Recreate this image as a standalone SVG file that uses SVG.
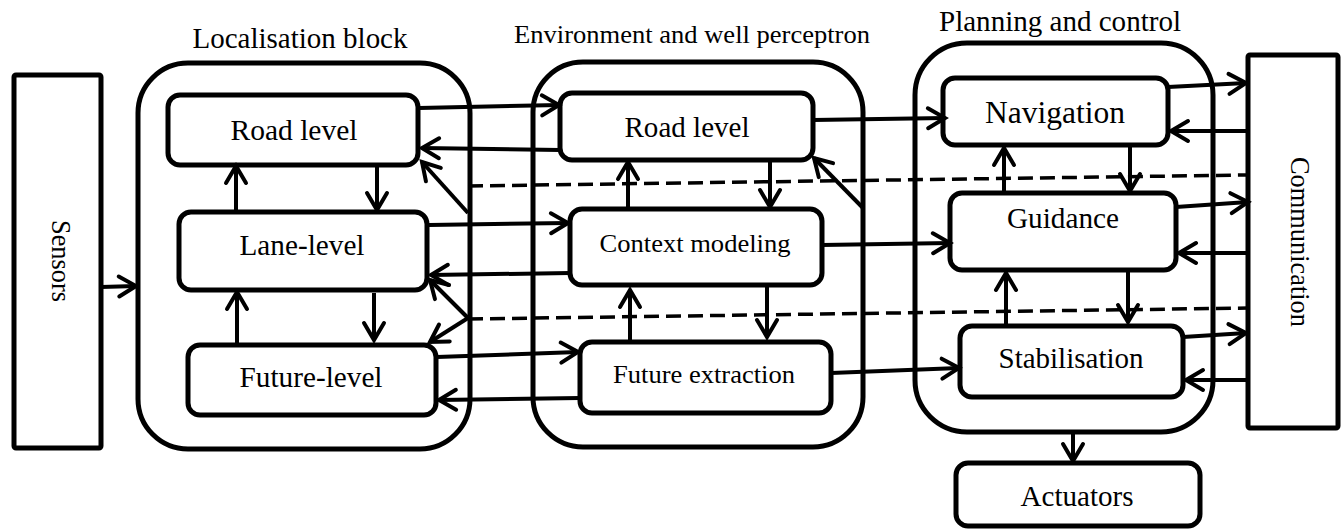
<svg xmlns="http://www.w3.org/2000/svg" width="1343" height="529" viewBox="0 0 1343 529">
<style>
.box{fill:#fff;stroke:#000;stroke-width:5;stroke-linejoin:round}
.outer{fill:none;stroke:#000;stroke-width:5}
.t{font-family:"Liberation Serif","Times New Roman",serif;fill:#000;text-anchor:middle}
.c line{stroke:#000;stroke-width:4;marker-end:url(#ah)}
.dash{stroke:#000;stroke-width:3.5;stroke-dasharray:15 7;fill:none}
</style>
<defs>
<marker id="ah" markerUnits="userSpaceOnUse" markerWidth="30" markerHeight="30" viewBox="-20 -15 30 30" refX="0" refY="0" orient="auto" overflow="visible">
<path d="M-17,-10 L0,0 L-17,10" fill="none" stroke="#000" stroke-width="4" stroke-linecap="round" stroke-linejoin="miter"/>
</marker>
</defs>
<rect width="1343" height="529" fill="#fff"/>

<g id="titles">
<text class="t" x="300" y="48" font-size="29" textLength="215" lengthAdjust="spacingAndGlyphs">Localisation block</text>
<text class="t" x="692" y="43" font-size="26" textLength="356" lengthAdjust="spacingAndGlyphs">Environment and well perceptron</text>
<text class="t" x="1060" y="31" font-size="29" textLength="242" lengthAdjust="spacingAndGlyphs">Planning and control</text>
</g>

<g id="groups">
<rect id="localisation-block" class="outer" x="138" y="63" width="332" height="386" rx="50"/>
<rect id="environment-block" class="outer" x="533" y="62" width="330" height="385" rx="50"/>
<rect id="planning-block" class="outer" x="915" y="43" width="298" height="389" rx="52"/>
</g>

<g id="sensors">
<rect class="box" x="14" y="75" width="87" height="373" rx="2"/>
<text class="t" x="52" y="261" font-size="28" textLength="82" lengthAdjust="spacingAndGlyphs" transform="rotate(90 52 261)">Sensors</text>
</g>
<g id="communication">
<rect class="box" x="1248" y="55" width="90" height="373" rx="2"/>
<text class="t" x="1291" y="242" font-size="28" textLength="170" lengthAdjust="spacingAndGlyphs" transform="rotate(90 1291 242)">Communication</text>
</g>

<g id="loc-road">
<rect class="box" x="168" y="95" width="250" height="70" rx="12"/>
<text class="t" x="294" y="140" font-size="29" textLength="127" lengthAdjust="spacingAndGlyphs">Road level</text>
</g>
<g id="loc-lane">
<rect class="box" x="179" y="212" width="248" height="78" rx="12"/>
<text class="t" x="302" y="255" font-size="29" textLength="125" lengthAdjust="spacingAndGlyphs">Lane-level</text>
</g>
<g id="loc-future">
<rect class="box" x="188" y="345" width="248" height="70" rx="12"/>
<text class="t" x="311" y="387" font-size="29" textLength="143" lengthAdjust="spacingAndGlyphs">Future-level</text>
</g>

<g id="env-road">
<rect class="box" x="560" y="93" width="253" height="67" rx="12"/>
<text class="t" x="687" y="137" font-size="29" textLength="125" lengthAdjust="spacingAndGlyphs">Road level</text>
</g>
<g id="env-context">
<rect class="box" x="570" y="209" width="252" height="76" rx="12"/>
<text class="t" x="695" y="252" font-size="26" textLength="191" lengthAdjust="spacingAndGlyphs">Context modeling</text>
</g>
<g id="env-future">
<rect class="box" x="580" y="342" width="251" height="71" rx="12"/>
<text class="t" x="704" y="383" font-size="26" textLength="182" lengthAdjust="spacingAndGlyphs">Future extraction</text>
</g>

<g id="navigation">
<rect class="box" x="943" y="78" width="225" height="67" rx="12"/>
<text class="t" x="1055" y="123" font-size="31" textLength="140" lengthAdjust="spacingAndGlyphs">Navigation</text>
</g>
<g id="guidance">
<rect class="box" x="950" y="193" width="226" height="77" rx="12"/>
<text class="t" x="1063" y="228" font-size="29" textLength="112" lengthAdjust="spacingAndGlyphs">Guidance</text>
</g>
<g id="stabilisation">
<rect class="box" x="960" y="326" width="223" height="71" rx="12"/>
<text class="t" x="1071" y="368" font-size="29" textLength="145" lengthAdjust="spacingAndGlyphs">Stabilisation</text>
</g>
<g id="actuators">
<rect class="box" x="956" y="463" width="244" height="63" rx="12"/>
<text class="t" x="1077" y="506" font-size="29" textLength="113" lengthAdjust="spacingAndGlyphs">Actuators</text>
</g>

<g id="connectors" class="c">
<path class="dash" d="M468,186 L1246,175"/>
<path class="dash" d="M468,319 L1248,308"/>
<line x1="101" y1="287" x2="136" y2="286"/>
<line x1="419" y1="108" x2="559" y2="105"/>
<line x1="560" y1="150" x2="422" y2="148"/>
<line x1="468" y1="213" x2="422" y2="162"/>
<line x1="377" y1="167" x2="377" y2="210"/>
<line x1="236" y1="212" x2="236" y2="166"/>
<line x1="429" y1="225" x2="568" y2="223"/>
<line x1="570" y1="273" x2="431" y2="275"/>
<line x1="468" y1="318" x2="430" y2="280"/>
<line x1="468" y1="318" x2="430" y2="342"/>
<line x1="374" y1="293" x2="374" y2="340"/>
<line x1="237" y1="345" x2="237" y2="292"/>
<line x1="437" y1="357" x2="578" y2="352"/>
<line x1="580" y1="398" x2="439" y2="400"/>
<line x1="770" y1="160" x2="770" y2="207"/>
<line x1="628" y1="209" x2="628" y2="162"/>
<line x1="863" y1="208" x2="814" y2="158"/>
<line x1="813" y1="120" x2="945" y2="118"/>
<line x1="822" y1="245" x2="950" y2="243"/>
<line x1="767" y1="285" x2="767" y2="337"/>
<line x1="630" y1="342" x2="630" y2="290"/>
<line x1="831" y1="373" x2="959" y2="368"/>
<line x1="1130" y1="145" x2="1130" y2="191"/>
<line x1="1004" y1="193" x2="1004" y2="148"/>
<line x1="1168" y1="87" x2="1246" y2="83"/>
<line x1="1246" y1="131" x2="1171" y2="131"/>
<line x1="1176" y1="207" x2="1248" y2="202"/>
<line x1="1246" y1="253" x2="1179" y2="253"/>
<line x1="1128" y1="271" x2="1128" y2="322"/>
<line x1="1006" y1="326" x2="1006" y2="273"/>
<line x1="1183" y1="337" x2="1246" y2="333"/>
<line x1="1246" y1="380" x2="1186" y2="380"/>
<line x1="1073" y1="432" x2="1073" y2="461"/>
</g>
</svg>
